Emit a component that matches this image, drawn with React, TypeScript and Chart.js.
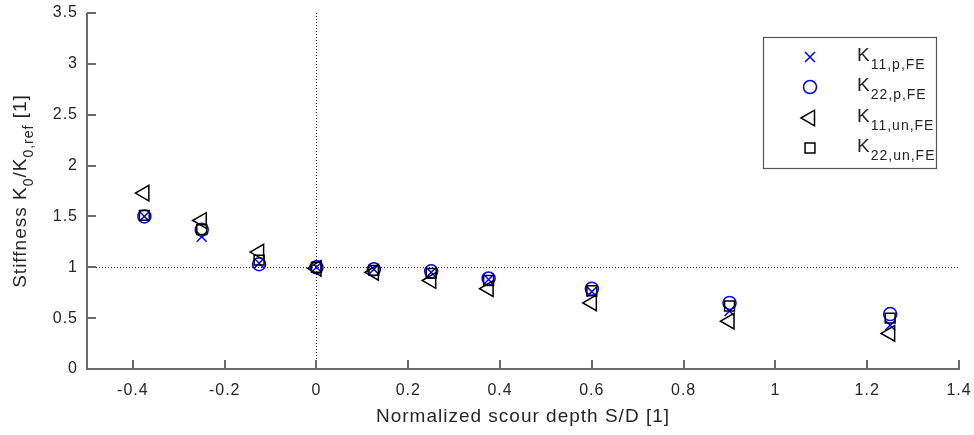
import React, { useEffect, useRef } from 'react';
import { Chart, registerables } from 'chart.js';

Chart.register(...registerables);

// ---- data ----
const scourDepth = [-0.375, -0.25, -0.125, 0, 0.125, 0.25, 0.375, 0.6, 0.9, 1.25];
const k11p = [1.5, 1.3, 1.04, 1.0, 0.98, 0.95, 0.88, 0.76, 0.57, 0.43];
const k22p = [1.5, 1.37, 1.03, 1.0, 0.98, 0.96, 0.89, 0.79, 0.65, 0.54];
const k11un = [1.73, 1.46, 1.15, 0.99, 0.95, 0.87, 0.79, 0.65, 0.47, 0.35];
const k22un = [1.51, 1.37, 1.07, 1.0, 0.97, 0.94, 0.87, 0.77, 0.62, 0.5];
const xTickValues = [-0.4, -0.2, 0, 0.2, 0.4, 0.6, 0.8, 1, 1.2, 1.4];
const yTickValues = [0, 0.5, 1, 1.5, 2, 2.5, 3, 3.5];
const legendSubs = ['11,p,FE', '22,p,FE', '11,un,FE', '22,un,FE'];
const xTitle = 'Normalized scour depth S/D [1]';

const BLUE = '#0000ff';
const BLACK = '#000000';
const TEXT = '#262626';
const AXIS = '#6a6a6a';
const FONT = '"Liberation Sans", Arial, sans-serif';

type Seg = { t: string; sub?: boolean };

function segWidth(ctx: CanvasRenderingContext2D, segs: Seg[], main: string, sub: string) {
  let w = 0;
  for (const s of segs) {
    ctx.font = s.sub ? sub : main;
    w += ctx.measureText(s.t).width;
  }
  return w;
}

function drawSegs(ctx: CanvasRenderingContext2D, segs: Seg[], x: number, y: number, main: string, sub: string, dy: number) {
  let cx = x;
  for (const s of segs) {
    ctx.font = s.sub ? sub : main;
    ctx.fillText(s.t, cx, s.sub ? y + dy : y);
    cx += ctx.measureText(s.t).width;
  }
}

function drawMarker(ctx: CanvasRenderingContext2D, kind: string, x: number, y: number, color: string) {
  ctx.save();
  ctx.strokeStyle = color;
  ctx.lineWidth = 1.5;
  ctx.setLineDash([]);
  ctx.beginPath();
  if (kind === 'crossRot') {
    const d = Math.SQRT1_2 * 7;
    ctx.moveTo(x - d, y - d); ctx.lineTo(x + d, y + d);
    ctx.moveTo(x - d, y + d); ctx.lineTo(x + d, y - d);
  } else if (kind === 'circle') {
    ctx.arc(x, y, 6.5, 0, Math.PI * 2);
  } else if (kind === 'triangle') {
    let rad = -Math.PI / 2;
    const r = 9;
    ctx.moveTo(x + Math.sin(rad) * r, y - Math.cos(rad) * r);
    rad += (2 * Math.PI) / 3;
    ctx.lineTo(x + Math.sin(rad) * r, y - Math.cos(rad) * r);
    rad += (2 * Math.PI) / 3;
    ctx.lineTo(x + Math.sin(rad) * r, y - Math.cos(rad) * r);
    ctx.closePath();
  } else {
    const s = Math.SQRT1_2 * 7;
    ctx.rect(x - s, y - s, 2 * s, 2 * s);
  }
  ctx.stroke();
  ctx.restore();
}

const overlay = {
  id: 'overlay',
  beforeDraw(chart: any) {
    (chart.ctx as any).letterSpacing = '1px';
  },
  beforeDatasetsDraw(chart: any) {
    const { ctx, chartArea: a, scales } = chart;
    const x0 = Math.round(scales.x.getPixelForValue(0)) + 0.5;
    const y1 = Math.round(scales.y.getPixelForValue(1)) + 0.5;
    ctx.save();
    ctx.strokeStyle = '#333333';
    ctx.lineWidth = 1;
    ctx.setLineDash([1, 2]);
    ctx.beginPath();
    ctx.moveTo(x0, a.top);
    ctx.lineTo(x0, a.bottom);
    ctx.moveTo(a.left, y1);
    ctx.lineTo(a.right, y1);
    ctx.stroke();
    ctx.restore();
  },
  afterDraw(chart: any) {
    const { ctx, scales } = chart;
    const xs = scales.x;
    const ys = scales.y;
    ctx.save();
    (ctx as any).letterSpacing = '1px';
    // axes (left and bottom, inward ticks)
    ctx.fillStyle = AXIS;
    const L = Math.round(xs.getPixelForValue(-0.5));
    const R = Math.round(xs.getPixelForValue(1.4));
    const B = Math.round(ys.getPixelForValue(0));
    const T = Math.round(ys.getPixelForValue(3.5));
    ctx.fillRect(L - 1, T, 2, B - T + 1);
    ctx.fillRect(L - 1, B - 1, R - L + 2, 2);
    for (const v of xTickValues) {
      const px = Math.round(xs.getPixelForValue(v));
      ctx.fillRect(px - 1, B - 9, 2, 9);
    }
    for (const v of yTickValues) {
      const py = Math.round(ys.getPixelForValue(v));
      ctx.fillRect(L, py - 1, 9, 2);
    }

    // axis titles
    ctx.fillStyle = TEXT;
    ctx.textBaseline = 'alphabetic';
    ctx.textAlign = 'center';
    ctx.font = `19px ${FONT}`;
    ctx.fillText(xTitle, (L + R) / 2, 422);

    ctx.textAlign = 'left';
    const main = `19px ${FONT}`;
    const sub = `14px ${FONT}`;
    const ySegs: Seg[] = [
      { t: 'Stiffness K' },
      { t: '0', sub: true },
      { t: '/K' },
      { t: '0,ref', sub: true },
      { t: ' [1]' },
    ];
    const W = segWidth(ctx, ySegs, main, sub);
    ctx.save();
    ctx.translate(26, (T + B) / 2);
    ctx.rotate(-Math.PI / 2);
    drawSegs(ctx, ySegs, -W / 2, 0, main, sub, 7);
    ctx.restore();

    // legend
    ctx.fillStyle = '#ffffff';
    ctx.fillRect(763.5, 37.5, 173, 131);
    ctx.strokeStyle = '#555555';
    ctx.lineWidth = 1.2;
    ctx.strokeRect(763.5, 37.5, 173, 131);
    const rows = [57, 87, 118, 148];
    const kinds = ['crossRot', 'circle', 'triangle', 'rect'];
    const cols = [BLUE, BLUE, BLACK, BLACK];
    rows.forEach((ry, i) => {
      drawMarker(ctx, kinds[i], 810, ry, cols[i]);
      ctx.fillStyle = TEXT;
      drawSegs(ctx, [{ t: 'K' }, { t: legendSubs[i], sub: true }], 857, ry + 4, main, sub, 8);
    });
    ctx.restore();
  },
};

export default function App() {
  const ref = useRef<HTMLCanvasElement | null>(null);
  useEffect(() => {
    if (!ref.current) return;
    const pts = (ys: number[]) => scourDepth.map((x, i) => ({ x, y: ys[i] }));
    const chart = new Chart(ref.current, {
      type: 'scatter',
      data: {
        datasets: [
          { label: 'K11,p,FE', data: pts(k11p), pointStyle: 'crossRot', pointRadius: 7, borderColor: BLUE, backgroundColor: 'transparent', pointBorderWidth: 1.5, order: 4 },
          { label: 'K22,p,FE', data: pts(k22p), pointStyle: 'circle', pointRadius: 6.5, borderColor: BLUE, backgroundColor: 'transparent', pointBorderWidth: 1.5, order: 3 },
          { label: 'K11,un,FE', data: pts(k11un), pointStyle: 'triangle', pointRotation: -90, pointRadius: 9, borderColor: BLACK, backgroundColor: 'transparent', pointBorderWidth: 1.5, order: 2 },
          { label: 'K22,un,FE', data: pts(k22un), pointStyle: 'rect', pointRadius: 7, borderColor: BLACK, backgroundColor: 'transparent', pointBorderWidth: 1.5, order: 1 },
        ] as any,
      },
      options: {
        animation: false,
        responsive: false,
        maintainAspectRatio: false,
        layout: { padding: { top: 13, right: 15, left: 0, bottom: 0 } },
        plugins: { legend: { display: false }, tooltip: { enabled: false } },
        scales: {
          x: {
            type: 'linear',
            min: -0.5,
            max: 1.4,
            grid: { display: false, drawTicks: false },
            border: { display: false },
            afterBuildTicks: (s: any) => { s.ticks = xTickValues.map((value) => ({ value })); },
            afterFit: (s: any) => { s.height = 66; s.paddingLeft = 0; s.paddingRight = 0; },
            ticks: { color: TEXT, font: { family: FONT, size: 16 }, padding: 12, maxRotation: 0, autoSkip: false, callback: (v: any) => String(v) },
          },
          y: {
            type: 'linear',
            min: 0,
            max: 3.5,
            grid: { display: false, drawTicks: false },
            border: { display: false },
            afterBuildTicks: (s: any) => { s.ticks = yTickValues.map((value) => ({ value })); },
            afterFit: (s: any) => { s.width = 87; s.paddingTop = 0; s.paddingBottom = 0; },
            ticks: { color: TEXT, font: { family: FONT, size: 16 }, padding: 9, autoSkip: false, callback: (v: any) => String(v) },
          },
        },
      } as any,
      plugins: [overlay],
    });
    return () => chart.destroy();
  }, []);
  return (
    <div style={{ position: 'absolute', left: 0, top: 0, width: 974, height: 435, background: '#fff' }}>
      <canvas ref={ref} width={974} height={435} style={{ display: 'block' }} />
    </div>
  );
}
